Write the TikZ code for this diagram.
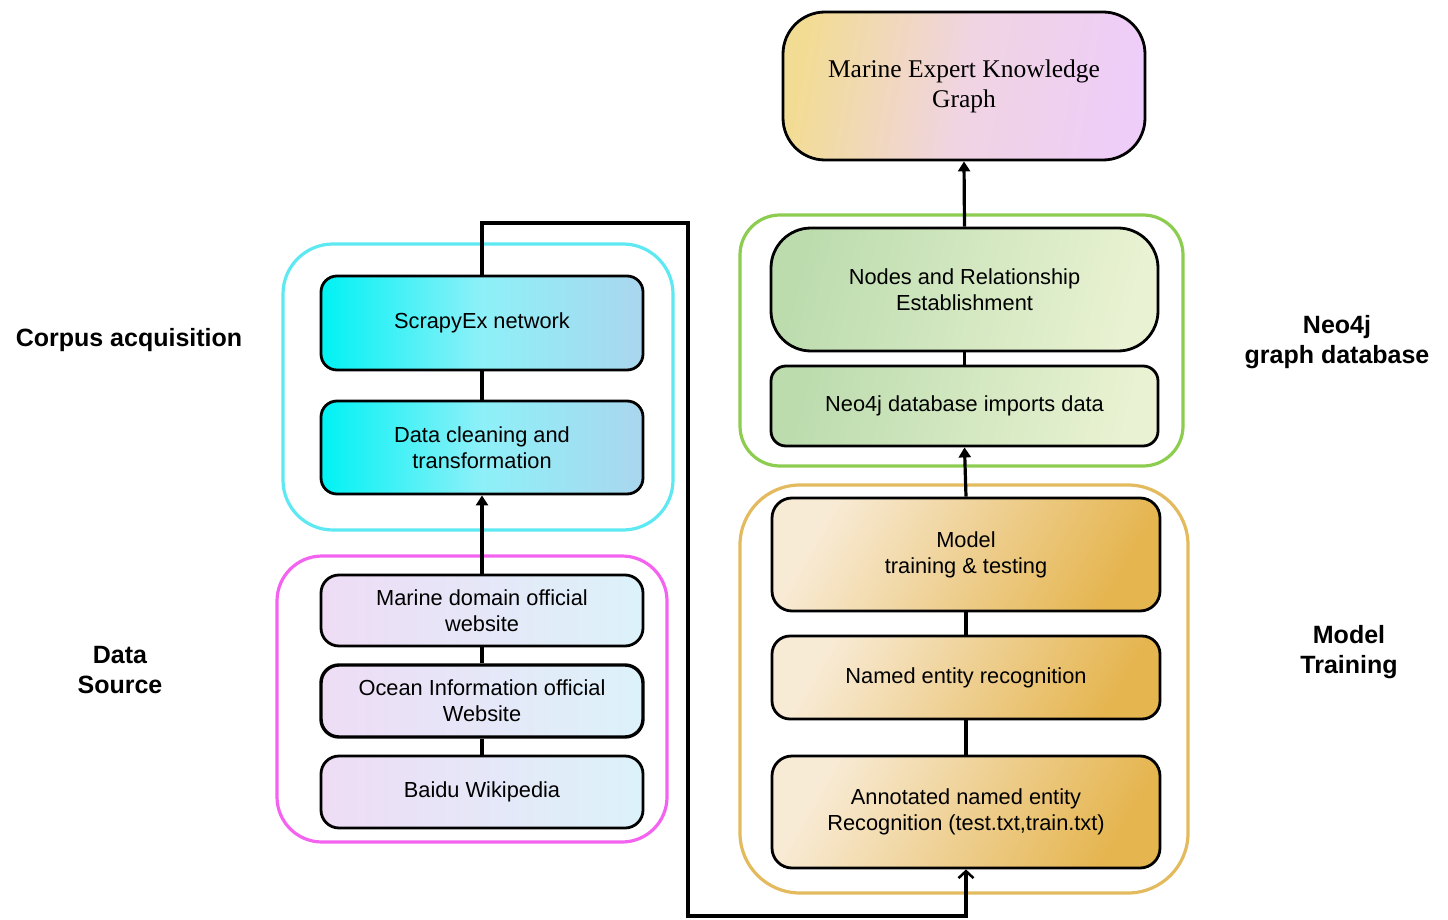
\documentclass[tikz,border=0pt]{standalone}
\usepackage{fontspec}
\setmainfont{Liberation Sans}
\newfontfamily\serifface{Liberation Serif}
\usetikzlibrary{arrows.meta}
\definecolor{cyanL}{HTML}{00F2F4}
\definecolor{cyanM}{HTML}{8EF0F8}
\definecolor{cyanR}{HTML}{AAD6EE}
\definecolor{cyanFrame}{HTML}{5EE8F2}
\definecolor{magFrame}{HTML}{F462F0}
\definecolor{lilL}{HTML}{EEDCF5}
\definecolor{lilR}{HTML}{DCF2FA}
\definecolor{grnFrame}{HTML}{8CCD50}
\definecolor{grnL}{HTML}{BCDCAE}
\definecolor{grnR}{HTML}{E9F2D2}
\definecolor{orgFrame}{HTML}{E4BA5E}
\definecolor{orgL}{HTML}{F8EBD6}
\definecolor{orgR}{HTML}{E5B550}
\definecolor{topL}{HTML}{F2DC94}
\definecolor{topM}{HTML}{F0D4E2}
\definecolor{topR}{HTML}{EECDF8}
\tikzset{
  x=1pt, y=-1pt,
  box/.style={draw=black, line width=2.8pt, align=center, inner sep=0pt,
    font=\fontsize{21.8}{26}\selectfont},
  cyanbox/.style={box, left color=cyanL, right color=cyanR, middle color=cyanM,
    minimum width=322pt, rounded corners=16pt},
  lilbox/.style={box, left color=lilL, right color=lilR,
    minimum width=322pt, rounded corners=18pt},
  grnbox/.style={box, left color=grnL, right color=grnR, shading angle=75,
    minimum width=387pt},
  orgbox/.style={box, left color=orgL, right color=orgR, shading angle=60,
    minimum width=388pt, rounded corners=20pt},
  frame/.style={draw=#1, line width=3.2pt, inner sep=0pt},
  label/.style={align=center, font=\fontsize{25}{30}\selectfont\bfseries},
  conn/.style={line width=3.2pt},
  arr/.style={line width=3.2pt, -{Triangle[length=10pt,width=12pt]}},
  barb/.style={line width=3.2pt, -{Straight Barb[length=7pt,width=15pt,line width=2.5pt]}},
}
\begin{document}
\begin{tikzpicture}
\useasboundingbox (0,0) rectangle (1448,920);
% outer frames
\node[frame=cyanFrame, minimum width=390pt, minimum height=286pt, rounded corners=50pt] (fcorpus) at (478,387) {};
\node[frame=magFrame, minimum width=390pt, minimum height=286pt, rounded corners=45pt] (fsource) at (472,699) {};
\node[frame=grnFrame, minimum width=443pt, minimum height=251pt, rounded corners=40pt] (fneo) at (961.5,340.5) {};
\node[frame=orgFrame, minimum width=448pt, minimum height=408pt, rounded corners=60pt] (fmodel) at (964,689) {};
% top
\node[box, left color=topL, right color=topR, middle color=topM, shading angle=80,
  minimum width=362pt, minimum height=148pt, rounded corners=42pt,
  font=\serifface\fontsize{25.5}{30}\selectfont] (kg) at (964,86) {Marine Expert Knowledge\\Graph};
% corpus
\node[cyanbox, minimum height=94pt] (scrapy) at (482,323) {ScrapyEx network};
\node[cyanbox, minimum height=93pt] (clean) at (482,447.5) {Data cleaning and\\transformation};
% source
\node[lilbox, minimum height=71pt] (marine) at (482,610.5) {Marine domain official\\website};
\node[lilbox, minimum height=72pt, line width=3.4pt] (ocean) at (482,701) {Ocean Information official\\Website};
\node[lilbox, minimum height=72pt] (baidu) at (482,792) {Baidu Wikipedia};
% neo4j
\node[grnbox, minimum height=123pt, rounded corners=40pt] (rel) at (964.5,289.5) {Nodes and Relationship\\Establishment};
\node[grnbox, minimum height=80pt, rounded corners=15pt] (imp) at (964.5,406) {Neo4j database imports data};
% model
\node[orgbox, minimum height=113pt] (train) at (966,554.5) {Model\\training \& testing};
\node[orgbox, minimum height=83pt, rounded corners=18pt] (ner) at (966,677.5) {Named entity recognition};
\node[orgbox, minimum height=112pt] (annot) at (966,812) {Annotated named entity\\Recognition (test.txt,train.txt)};
% labels
\node[label] (lcorpus) at (129,340) {Corpus acquisition};
\node[label] (lsource) at (120,670) {Data\\Source};
\node[label] (lneo) at (1337,342) {Neo4j\\graph database};
\node[label] (lmodel) at (1349,652) {Model\\Training};
% connectors
\draw[conn] (scrapy) -- (clean);
\draw[conn] (marine) -- (ocean);
\draw[conn] (ocean) -- (baidu);
\draw[arr] (marine.north) -- (clean.south);
\draw[conn] (rel) -- (imp);
\draw[arr] (rel.north) -- (kg.south);
\draw[arr] (train.north) -- (imp.south);
\draw[conn] (train) -- (ner);
\draw[conn] (ner) -- (annot);
\coordinate (c1) at (688,223);
\coordinate (c2) at (688,916);
\draw[barb, line join=miter] (scrapy.north) |- (c1) -- (c2) -| (annot.south);
\end{tikzpicture}
\end{document}
